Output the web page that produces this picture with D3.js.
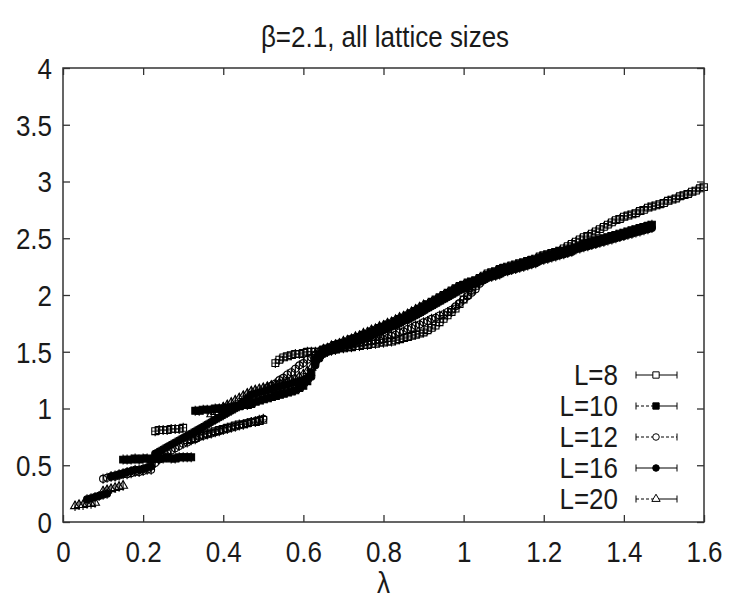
<!DOCTYPE html>
<html><head><meta charset="utf-8">
<script src="https://cdn.jsdelivr.net/npm/d3@7"></script>
<style>
body{margin:0;background:#fff}
text{font-family:"Liberation Sans",Arial,Helvetica,sans-serif;fill:#1a1a1a}
</style>
</head><body>
<svg id="c" width="729" height="604"></svg>
<script>
// ---- data: each series is a list of [start λ, values at steps of 0.01] ----
const STEP = 0.01;
const L8 = [
  [0.23, [0.80,0.81,0.81,0.81,0.82,0.82,0.82,0.83]],
  [0.31, [0.72,0.73,0.74,0.76,0.77,0.78,0.79,0.80,0.81,0.82,0.83,0.84,0.85,0.86,0.86,0.87,0.88,0.88,0.89,0.90]],
  [0.53, [1.40,1.43,1.45,1.46,1.47,1.48,1.48,1.49,1.50,1.50]],
  [0.63, [1.50,1.50,1.51,1.51,1.52,1.52,1.53,1.53,1.54,1.54,1.55,1.55,1.56,1.56,1.57,1.57,1.58,1.58,1.59,1.59,1.60,1.61,1.62,1.63,1.64,1.65,1.66,1.67,
          1.69,1.71,1.73,1.76,1.79,1.82,1.85,1.88,1.92,1.96,2.00,2.04,2.08,
          2.12,2.17,2.19,2.20,2.21,2.23,2.24,2.25,2.26,2.27,2.28,2.29,2.30,2.31,2.32,2.34,2.35,2.36,2.37,2.38,2.39,2.41,2.43,2.45,2.47,2.49,2.51,2.52,2.54,2.56,2.58,2.60,2.62,2.64,2.66,2.67,2.69,2.70,2.71,2.72,2.74,2.75,2.77,2.78,2.79,2.80,2.81,2.83,2.84,2.85,2.87,2.88,2.89,2.91,2.92,2.94,2.95]]
];
const L10 = [
  [0.15, [0.55,0.55,0.55,0.56,0.55,0.56,0.56,0.55,0.56,0.56,0.56,0.57,0.56,0.56,0.57,0.57,0.57,0.57]],
  [0.33, [0.98,0.98,0.99,0.99,0.99,1.00,1.00,1.00,1.01,1.01,1.02,1.02,1.03,1.03,1.04]],
  [0.48, [1.06,1.07,1.08,1.09,1.10,1.11,1.12,1.13,1.14,1.15,1.16,1.18,1.20,1.24,1.32]],
  [0.63, [1.42,1.47,1.52,1.53,1.54,1.56,1.57,1.58,1.59,1.61,1.62,1.63,1.65,1.66,1.68,1.69,1.71,1.72,1.74,1.75,1.77,1.79,1.80,1.82,1.84,1.86,1.88,1.90,1.92,1.94,1.96,1.98,2.00,2.02,2.04,2.06,2.08,2.09,2.11,2.12,2.13,2.15,2.16,
          2.18,2.19,2.20,2.22,2.23,2.24,2.25,2.26,2.27,2.28,2.29,2.30,2.31,2.33,2.34,2.35,2.36,2.37,2.38,2.39,
          2.40,2.41,2.42,2.43,2.45,2.46,2.47,2.48,2.49,2.50,2.51,2.52,2.53,2.54,2.55,2.56,2.57,2.58,2.59,2.60,2.61,2.62]]
];
const L12 = [
  [0.10, [0.38,0.39,0.40,0.40,0.41,0.42,0.42,0.43,0.44,0.44,0.45,0.46,0.46]],
  [0.23, [0.52,0.55,0.58,0.61,0.63,0.65,0.67,0.69,0.70,0.72,0.73,0.75,0.76,0.77,0.78,0.79,0.80,0.81,0.82,0.83,0.84,0.85,0.86,0.87,0.88,0.89,0.90,0.91]],
  [0.51, [1.18,1.20,1.22,1.25,1.27,1.30,1.32,1.35,1.38,1.40,1.43,1.45]],
  [0.63, [1.47,1.48,1.49,1.50,1.51,1.52,1.53,1.54,1.55,1.56,1.57,1.58,1.58,1.59,1.59,1.60,1.60,
          1.61,1.62,1.64,1.65,1.67,1.68,1.70,1.71,1.73,1.74,1.76,1.77,1.79,1.80,1.82,1.83,1.85,1.87,1.90,1.93,1.96,1.99,2.02,2.05,
          2.10,2.14,2.17,2.19,2.20,2.21,2.22,2.23,2.25,2.26,2.27,2.28,2.29,2.30,2.31,2.32,2.33]]
];
const L16 = [
  [0.06, [0.20,0.21,0.22,0.23,0.24,0.25]],
  [0.12, [0.40,0.41,0.42,0.43,0.44,0.45,0.46,0.46,0.47,0.48,0.49]],
  [0.23, [0.60,0.62,0.64,0.66,0.68,0.70,0.72,0.74,0.76,0.78,0.80,0.82,0.84,0.86,
          0.88,0.90,0.92,0.94,0.96,0.98,1.00,1.03,1.06,1.09,1.12,
          1.13,1.14,1.15,1.16,1.17,1.18,1.19,1.20,1.21,1.22,1.23,1.24,1.25,1.27,1.28]],
  [0.63, [1.38,1.44,1.48,1.50,1.51,1.52,1.54,1.55,1.56,1.57,1.59,1.60,1.61,1.63,1.64,1.66,1.67,1.69,1.70,1.72,1.73,1.75,1.77,1.78,1.80,1.82,1.84,1.86,1.88,1.90,1.92,1.94,1.96,1.98,2.00,2.02,2.04,2.06,2.07,2.09,2.10,2.12,2.13,
          2.15,2.16,2.17,2.18,2.20,2.21,2.22,2.23,2.24,2.25,2.26,2.27,2.28,2.30,2.31,2.32,2.33,2.34,2.35,2.36,2.37,2.38,2.40,2.41,2.42,2.43,2.44,2.45,2.46,2.47,
          2.48,2.49,2.50,2.51,2.52,2.53,2.54,2.55,2.56,2.57,2.58,2.59]]
];
const L20 = [
  [0.03, [0.14,0.15,0.15,0.16,0.16,0.17]],
  [0.10, [0.27,0.28,0.29,0.30,0.31,0.32]],
  [0.37, [0.95,0.97,0.99,1.01,1.03,1.05,1.07,1.09,1.11,1.13,1.15,1.16,1.17,1.18,1.19,1.20,1.21,1.22,1.23,1.24,1.25,1.26,1.28,1.30,1.33,1.36]],
  [0.63, [1.48,1.50,1.52,1.53,1.55,1.56,1.57,1.59,1.60,1.61,1.63,1.64,1.66,1.67,1.69,1.70,1.72,1.73,1.75,1.76,1.78,1.80,1.81,1.83,1.85,1.87,1.89,1.91]]
];
const seriesLabels = ["L=8","L=10","L=12","L=16","L=20"];
const xTicks = [0,0.2,0.4,0.6,0.8,1,1.2,1.4,1.6];
const yTicks = [0,0.5,1,1.5,2,2.5,3,3.5,4];
const title = "β=2.1, all lattice sizes";
const xLabel = "λ";

// ---- drawing ----
const svg = d3.select("#c");
const x = d3.scaleLinear().domain([0,1.6]).range([63,704]);
const y = d3.scaleLinear().domain([0,4]).range([522,68]);
const FS = 26, SY = 1.15;

const series = [
  {label:seriesLabels[0], data:L8,  sym:"square",   fill:false, dash:["",""]},
  {label:seriesLabels[1], data:L10, sym:"square",   fill:true,  dash:["3,2",""]},
  {label:seriesLabels[2], data:L12, sym:"circle",   fill:false, dash:["3,2","3,2"]},
  {label:seriesLabels[3], data:L16, sym:"circle",   fill:true,  dash:["",""]},
  {label:seriesLabels[4], data:L20, sym:"triangle", fill:false, dash:["3,2",""]}
];
function points(segs){
  const out=[];
  segs.forEach(([s,vals])=>vals.forEach((v,i)=>out.push([Math.round((s+i*STEP)*1000)/1000, v])));
  return out;
}
const symGen = {
  square: d3.symbol().type(d3.symbolSquare).size(46),
  circle: d3.symbol().type(d3.symbolCircle).size(38),
  triangle: d3.symbol().type(d3.symbolTriangle).size(34)
};
const legSym = {
  square: d3.symbol().type(d3.symbolSquare).size(40),
  circle: d3.symbol().type(d3.symbolCircle).size(34),
  triangle: d3.symbol().type(d3.symbolTriangle).size(30)
};
function drawMarker(g, s, cx, cy, err){
  const m = g.append("g").attr("transform",`translate(${cx},${cy})`);
  m.append("line").attr("x1",0).attr("x2",0).attr("y1",-err).attr("y2",err)
    .attr("stroke","#000").attr("stroke-width",1.1);
  m.append("path").attr("d",symGen[s.sym]())
    .attr("fill", s.fill ? "#000" : "none")
    .attr("stroke","#000").attr("stroke-width",1.1);
  if(!s.fill && s.sym==="square"){
    m.append("line").attr("x1",-3.4).attr("x2",3.4).attr("y1",0).attr("y2",0)
      .attr("stroke","#000").attr("stroke-width",0.8);
  }
}
const plot = svg.append("g");
series.forEach(s=>{
  const g = plot.append("g");
  points(s.data).forEach(([lx,v])=>drawMarker(g, s, x(lx), y(v), 5));
});

// vertical stretch helper for text (reference glyphs are tall)
function stretch(sel, cy){
  sel.attr("transform",`translate(0,${cy}) scale(1,${SY}) translate(0,${-cy})`);
}

// axes with inward ticks
const fmt = d3.format("~g");
const axB = svg.append("g").attr("transform",`translate(0,${y(0)})`)
  .call(d3.axisBottom(x).tickValues(xTicks).tickFormat(fmt).tickSizeInner(-7).tickSizeOuter(0).tickPadding(19));
const axT = svg.append("g").attr("transform",`translate(0,${y(4)})`)
  .call(d3.axisTop(x).tickValues(xTicks).tickFormat("").tickSizeInner(-7).tickSizeOuter(0));
const axL = svg.append("g").attr("transform",`translate(${x(0)},0)`)
  .call(d3.axisLeft(y).tickValues(yTicks).tickFormat(fmt).tickSizeInner(-7).tickSizeOuter(0).tickPadding(11));
const axR = svg.append("g").attr("transform",`translate(${x(1.6)},0)`)
  .call(d3.axisRight(y).tickValues(yTicks).tickFormat("").tickSizeInner(-7).tickSizeOuter(0));
[axB,axT,axL,axR].forEach(a=>{
  a.select(".domain").remove();
  a.selectAll(".tick line").attr("stroke","#333").attr("stroke-width",1.3);
  a.selectAll("text").attr("font-size",FS).attr("font-family",null).style("fill","#1a1a1a");
});
axL.selectAll("text").attr("dy","0.35em");
stretch(axL.selectAll("text"), 0);
stretch(axB.selectAll("text"), 19);
svg.append("rect").attr("x",x(0)).attr("y",y(4)).attr("width",x(1.6)-x(0)).attr("height",y(0)-y(4))
  .attr("fill","none").attr("stroke","#333").attr("stroke-width",1.5);

// title and axis label
stretch(svg.append("text").attr("x",385).attr("y",46).attr("text-anchor","middle").attr("font-size",FS).text(title), 38);
stretch(svg.append("text").attr("x",x(0.8)).attr("y",592).attr("text-anchor","middle").attr("font-size",FS).text(xLabel), 583);

// legend
const legY0 = 375, legDY = 31;
series.forEach((s,i)=>{
  const cy = legY0 + i*legDY;
  stretch(svg.append("text").attr("x",618).attr("y",cy).attr("dy","0.35em").attr("text-anchor","end")
    .attr("font-size",FS).text(s.label), cy);
  const g = svg.append("g");
  const x1=636, x2=677, xm=656;
  g.append("line").attr("x1",x1).attr("x2",xm).attr("y1",cy).attr("y2",cy)
    .attr("stroke","#000").attr("stroke-width",1).attr("stroke-dasharray",s.dash[0]||null);
  g.append("line").attr("x1",xm).attr("x2",x2).attr("y1",cy).attr("y2",cy)
    .attr("stroke","#000").attr("stroke-width",1).attr("stroke-dasharray",s.dash[1]||null);
  [x1,x2].forEach(xx=>g.append("line").attr("x1",xx).attr("x2",xx).attr("y1",cy-3.5).attr("y2",cy+3.5)
    .attr("stroke","#000").attr("stroke-width",1));
  const m = g.append("g").attr("transform",`translate(${xm},${cy})`);
  m.append("path").attr("d",legSym[s.sym]()).attr("fill", s.fill?"#000":"#fff")
    .attr("stroke","#000").attr("stroke-width",1);
});
</script>
</body></html>
